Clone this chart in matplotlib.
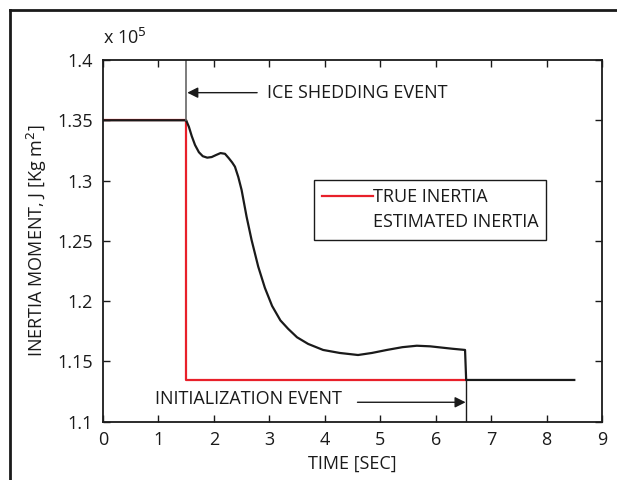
import numpy as np
import matplotlib
matplotlib.use("Agg")
import matplotlib.pyplot as plt
from matplotlib.lines import Line2D

plt.rcParams['font.family'] = ['Open Sans', 'DejaVu Sans']

# true inertia (x 1e5 kg m^2)
true_t = [0, 1.5, 1.5, 6.55]
true_j = [1.35, 1.35, 1.1346, 1.1346]

# estimated inertia (x 1e5 kg m^2)
est_t = [0, 1.5, 1.55, 1.6, 1.66, 1.73, 1.8, 1.88, 1.96, 2.04, 2.12, 2.2, 2.27,
         2.33, 2.38, 2.44, 2.5, 2.59, 2.68, 2.8, 2.92, 3.05, 3.2, 3.34, 3.5, 3.7,
         3.97, 4.27, 4.6, 4.85, 5.12, 5.4, 5.66, 5.9, 6.1, 6.3, 6.53, 6.55, 8.5]
est_j = [1.35, 1.35, 1.3445, 1.337, 1.3295, 1.3235, 1.3202, 1.319, 1.3195,
         1.3212, 1.3228, 1.3222, 1.3185, 1.315, 1.3115, 1.303, 1.2922, 1.270,
         1.2507, 1.2286, 1.211, 1.196, 1.184, 1.177, 1.170, 1.1645, 1.1595,
         1.157, 1.1553, 1.157, 1.1595, 1.1618, 1.163, 1.1625, 1.1615, 1.1605,
         1.1595, 1.1346, 1.1346]

ice_t = 1.5
init_t = 6.55

fig = plt.figure(figsize=(6.17, 4.8), dpi=100)
ax = fig.add_axes([0.1669, 0.1215, 0.8088, 0.7535])

ax.plot(true_t, true_j, color='#e8202a', lw=1.6)
ax.plot(est_t, est_j, color='#1a1a1a', lw=1.6)

# event markers
ax.plot([ice_t, ice_t], [1.35, 1.4], color='#666666', lw=1.2)
ax.plot([init_t, init_t], [1.1, 1.1346], color='#1a1a1a', lw=1.0)

ax.annotate('', xy=(1.52, 1.3729), xytext=(2.78, 1.3729),
            arrowprops=dict(arrowstyle='-|>', color='#1a1a1a', lw=1.0,
                            mutation_scale=16, shrinkA=0, shrinkB=0))
ax.text(2.96, 1.3729, 'ICE SHEDDING EVENT', fontsize=13, va='center', ha='left',
        color='#1a1a1a')
ax.annotate('', xy=(6.54, 1.1161), xytext=(4.59, 1.1161),
            arrowprops=dict(arrowstyle='-|>', color='#1a1a1a', lw=1.0,
                            mutation_scale=16, shrinkA=0, shrinkB=0))
ax.text(0.93, 1.1185, 'INITIALIZATION EVENT', fontsize=13, va='center', ha='left',
        color='#1a1a1a')

ax.set_xlim(0, 9)
ax.set_ylim(1.1, 1.4)
ax.set_xticks(range(10))
ax.set_yticks([1.1, 1.15, 1.2, 1.25, 1.3, 1.35, 1.4])
ax.set_yticklabels(['1.1', '1.15', '1.2', '1.25', '1.3', '1.35', '1.4'])
ax.tick_params(direction='in', top=True, right=True, length=5, width=1,
               labelsize=13, colors='#1a1a1a', pad=7)
for s in ax.spines.values():
    s.set_linewidth(1.3)
    s.set_color('#1a1a1a')

ax.set_xlabel('TIME [SEC]', fontsize=13, color='#1a1a1a', labelpad=4)
ax.set_ylabel('INERTIA MOMENT, J [Kg m$^2$]', fontsize=13, color='#1a1a1a',
              labelpad=6)
fig.text(0.167, 0.921, 'x 10$^5$', fontsize=13, color='#1a1a1a', ha='left',
         va='center')

handles = [Line2D([], [], color='#e8202a', lw=1.6),
           Line2D([], [], color='none', lw=1.6)]
leg = ax.legend(handles, ['TRUE INERTIA', 'ESTIMATED INERTIA'],
                loc='upper left', bbox_to_anchor=(0.4228, 0.668),
                borderaxespad=0, fancybox=False, framealpha=1, edgecolor='#1a1a1a',
                fontsize=13, handlelength=2.8, handletextpad=0.0,
                borderpad=0.45, labelspacing=0.4)
leg.get_frame().set_linewidth(1.0)
for t in leg.get_texts():
    t.set_color('#1a1a1a')

# outer figure frame (left and top edges)
fig.add_artist(Line2D([10 / 617, 10 / 617], [0, 1 - 10 / 480], color='#1a1a1a',
                      lw=2, transform=fig.transFigure))
fig.add_artist(Line2D([10 / 617, 1], [1 - 10 / 480, 1 - 10 / 480], color='#1a1a1a',
                      lw=2, transform=fig.transFigure))

fig.savefig('out.png', dpi=100)
